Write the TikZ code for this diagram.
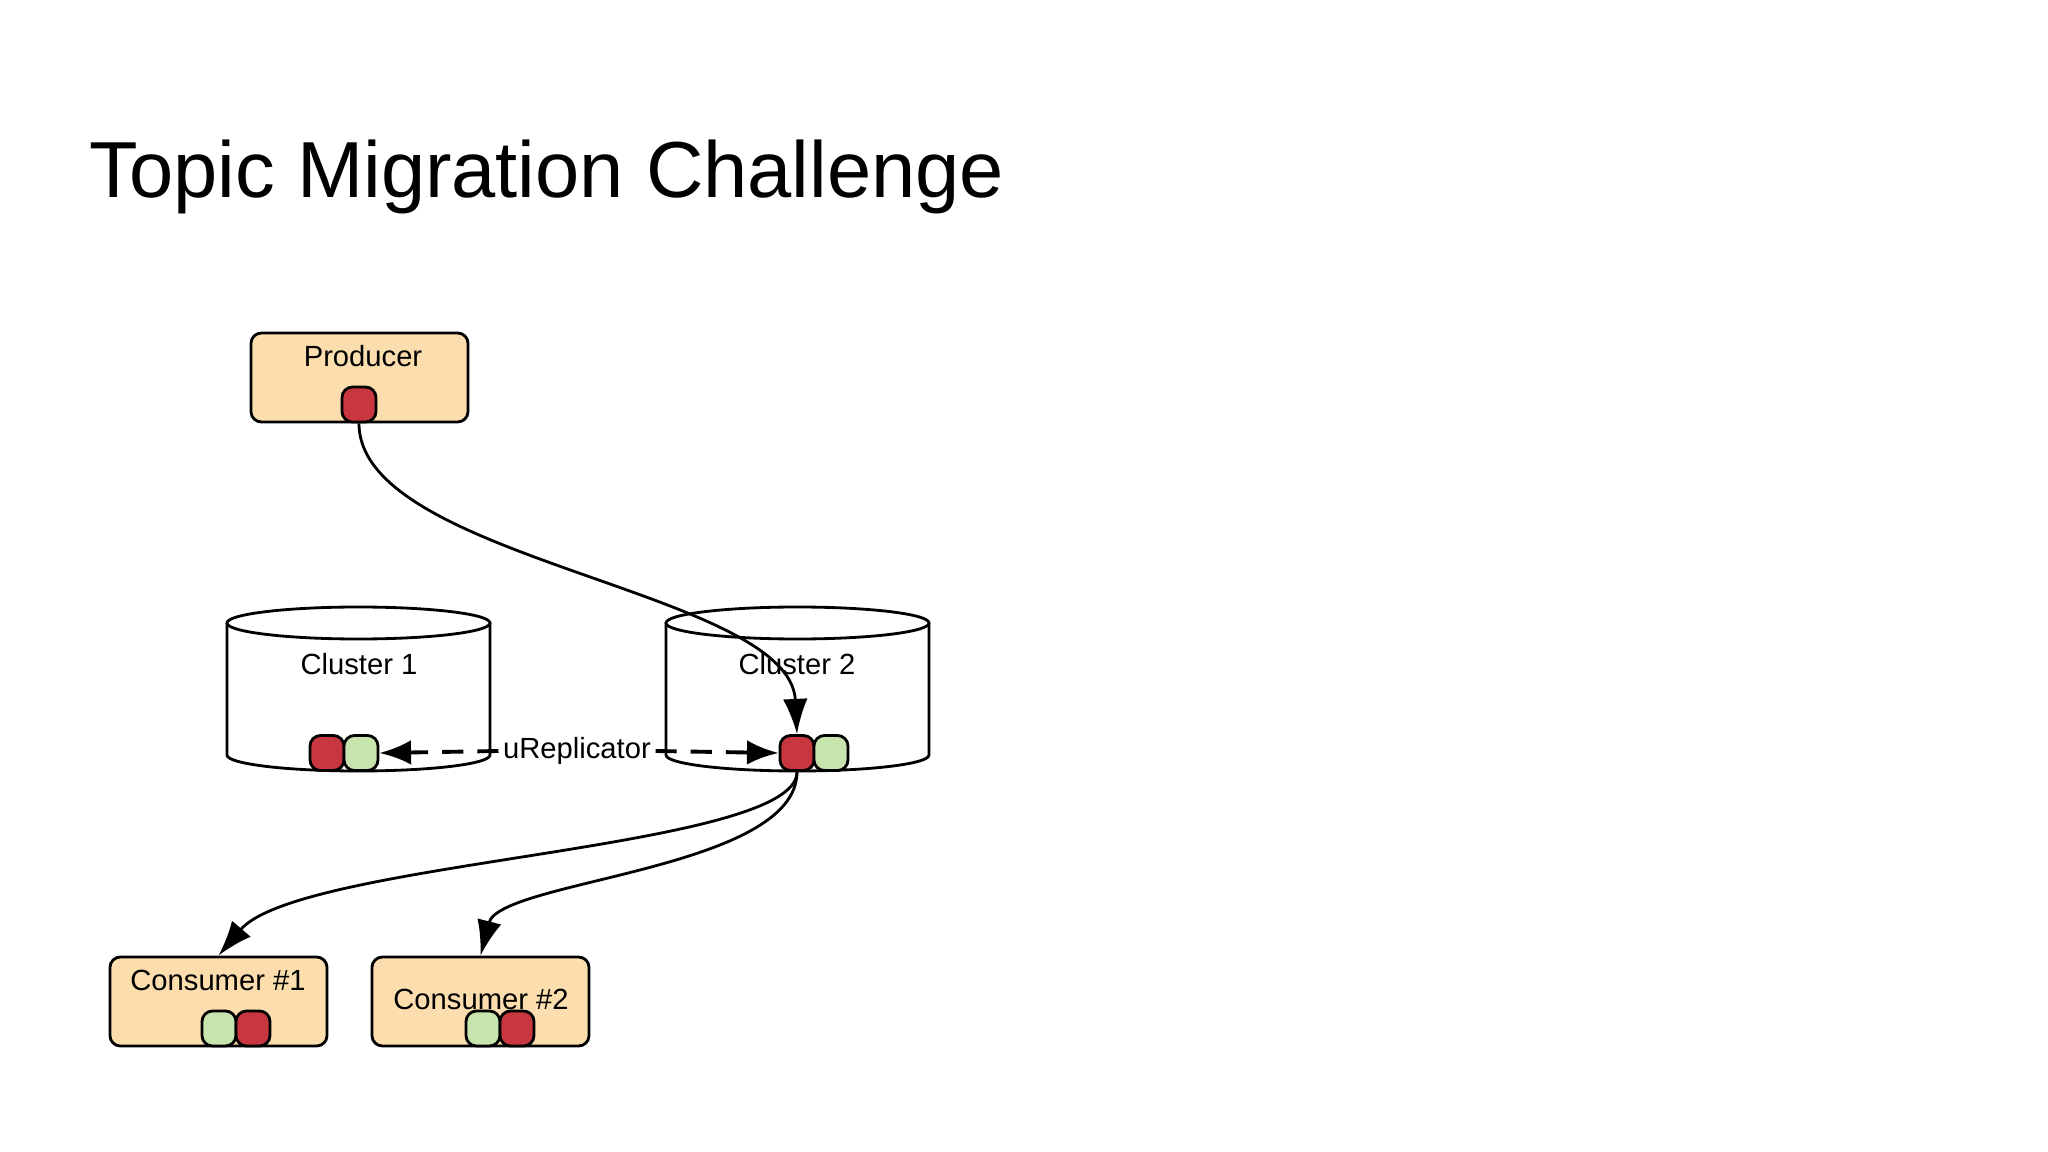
\documentclass[tikz,border=0pt]{standalone}
\usepackage{fontspec}
\setmainfont{Liberation Sans}
\usetikzlibrary{arrows.meta}
\definecolor{boxfill}{HTML}{FBDDAE}
\definecolor{pred}{HTML}{C8363F}
\definecolor{pgreen}{HTML}{C7E3AE}
\begin{document}
\begin{tikzpicture}[x=0.01cm,y=-0.01cm,
  lw/.style={line width=0.8pt},
  boxnode/.style={lw,draw,fill=boxfill,rounded corners=3pt,minimum width=2.17cm,minimum height=0.89cm,inner sep=0pt},
  part/.style={lw,draw,rounded corners=3pt,minimum width=0.34cm,minimum height=0.35cm,inner sep=0pt},
  redp/.style={part,fill=pred},
  greenp/.style={part,fill=pgreen},
  lbl/.style={font=\fontsize{8.3}{10}\selectfont,inner sep=0pt},
  arr/.style={lw,-{Latex[length=10pt,width=7pt]}},
  darr/.style={line width=1.1pt,-{Latex[length=9pt,width=7pt]},dash pattern=on 6pt off 4pt}]
\useasboundingbox (0,0) rectangle (2048,1152);
\fill[white] (0,0) rectangle (2048,1152);
\node[anchor=base west,inner sep=0pt,font=\fontsize{22.6}{27}\selectfont] (title) at (89,198) {Topic Migration Challenge};
% producer
\node[boxnode] (prod) at (359.5,377.5) {};
\node[lbl] (prodt) at (363,356) {Producer};
\node[redp] (pr) at (359,404.5) {};
% cylinders
\foreach \l/\r in {227/490,666/929}{
  \draw[lw,fill=white] (\l,623) -- (\l,755) arc[start angle=180,end angle=0,x radius={(\r-\l)/2},y radius=16] -- (\r,623);
  \draw[lw,fill=white] ({(\l+\r)/2},623) ellipse[x radius={(\r-\l)/2},y radius=16];
}
\node[lbl] (c1t) at (359,664) {Cluster 1};
\node[lbl] (c2t) at (797,664) {Cluster 2};
\node[redp] (c1r) at (327,753) {};
\node[greenp] (c1g) at (361,753) {};
\node[redp] (c2r) at (797,753) {};
\node[greenp] (c2g) at (831,753) {};
\node[lbl] (urep) at (577,751) {uReplicator};
\draw[darr] (urep.west)++(-4,0) coordinate (ul) (ul) -- (c1g.east);
\draw[darr] (urep.east)++(4,0) coordinate (ur) (ur) -- (c2r.west);
% consumers
\node[boxnode] (cons1) at (218.5,1001.5) {};
\node[lbl] (cons1t) at (218,980) {Consumer \#1};
\node[greenp] (k1g) at (219,1028.5) {};
\node[redp] (k1r) at (253,1028.5) {};
\node[boxnode] (cons2) at (480.5,1001.5) {};
\node[greenp] (k2g) at (483,1028.5) {};
\node[redp] (k2r) at (517,1028.5) {};
\node[lbl] (cons2t) at (481,999) {Consumer \#2};
% arrows
\draw[arr] (pr.south) .. controls (359,560) and (790,590) .. (c2r.north);
\draw[arr] (c2r.south) .. controls (797,850) and (300,860) .. (cons1.north);
\draw[arr] (c2r.south) .. controls (797,870) and (500,880) .. (cons2.north);
\end{tikzpicture}
\end{document}
